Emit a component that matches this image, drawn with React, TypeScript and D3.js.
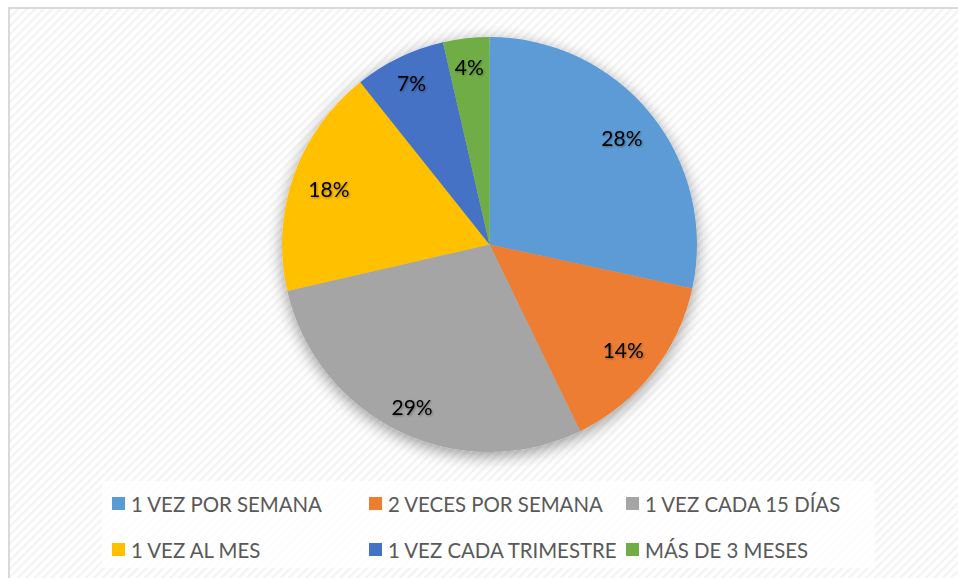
import React from "react";
import * as d3 from "d3";

const categories = [
  "1 VEZ POR SEMANA",
  "2 VECES POR SEMANA",
  "1 VEZ CADA 15 DÍAS",
  "1 VEZ AL MES",
  "1 VEZ CADA TRIMESTRE",
  "MÁS DE 3 MESES",
];
const values = [28.4, 14.4, 28.6, 17.9, 7.1, 3.6];
const colors = ["#5B9BD5", "#ED7D31", "#A5A5A5", "#FFC000", "#4472C4", "#70AD47"];

const W = 958;
const H = 578;

export default function App() {
  const cx = 489.5;
  const cy = 244.5;
  const r = 207.5;
  const total = d3.sum(values);
  const pie = d3.pie<number>().sort(null).value((d) => d).startAngle(0).endAngle(2 * Math.PI);
  const arcs = pie(values);
  const arc = d3.arc<d3.PieArcDatum<number>>().innerRadius(0).outerRadius(r);
  const labelArc = (a: d3.PieArcDatum<number>) => {
    const frac = (a.endAngle - a.startAngle) / (2 * Math.PI);
    const mid = (a.startAngle + a.endAngle) / 2;
    const lower = mid > Math.PI * 0.95 && mid < Math.PI * 1.3;
    const lr = frac < 0.1 || lower ? r * 0.865 : r * 0.82;
    return d3.arc<d3.PieArcDatum<number>>().innerRadius(lr).outerRadius(lr).centroid(a);
  };

  const legendCols = [112, 369, 626];
  const legendRows = [504, 550];

  return (
    <svg
      width={W}
      height={H}
      style={{ position: "absolute", left: 0, top: 0, display: "block" }}
      fontFamily="Lato, 'Open Sans', sans-serif"
    >
      <defs>
        <pattern id="stripes" width="6" height="6" patternUnits="userSpaceOnUse" patternTransform="rotate(45)">
          <rect width="6" height="6" fill="#ffffff" />
          <rect x="0" y="0" width="2.4" height="6" fill="#f3f3f3" />
        </pattern>
        <filter id="pieShadow" x="-20%" y="-20%" width="140%" height="140%">
          <feGaussianBlur in="SourceAlpha" stdDeviation="8" />
          <feOffset dx="0" dy="4" result="b" />
          <feComponentTransfer>
            <feFuncA type="linear" slope="0.4" />
          </feComponentTransfer>
          <feMerge>
            <feMergeNode />
            <feMergeNode in="SourceGraphic" />
          </feMerge>
        </filter>
        <filter id="textShadow" x="-20%" y="-20%" width="140%" height="140%">
          <feGaussianBlur in="SourceAlpha" stdDeviation="0.8" />
          <feOffset dx="1" dy="1" />
          <feComponentTransfer>
            <feFuncA type="linear" slope="0.35" />
          </feComponentTransfer>
          <feMerge>
            <feMergeNode />
            <feMergeNode in="SourceGraphic" />
          </feMerge>
        </filter>
      </defs>
      <rect x={0} y={0} width={W} height={H} fill="#ffffff" />
      <rect x={9} y={8} width={W + 20} height={H + 20} fill="url(#stripes)" stroke="#d9d9d9" strokeWidth={2} />

      <g transform={`translate(${cx},${cy})`}>
        <g filter="url(#pieShadow)">
          {arcs.map((a, i) => (
            <path key={i} d={arc(a) || ""} fill={colors[i]} />
          ))}
        </g>
        {arcs.map((a, i) => {
          const [x, y] = labelArc(a);
          return (
            <text
              key={i}
              x={x}
              y={y}
              textAnchor="middle"
              dominantBaseline="central"
              fontSize={21}
              fill="#000000"
              filter="url(#textShadow)"
            >
              {Math.round((values[i] / total) * 100)}%
            </text>
          );
        })}
      </g>

      <rect x={102} y={481} width={773} height={87} fill="#ffffff" fillOpacity={0.8} />
      {categories.map((c, i) => {
        const col = i % 3;
        const row = Math.floor(i / 3);
        const x = legendCols[col];
        const y = legendRows[row];
        return (
          <g key={c}>
            <rect x={x} y={y - 7} width={13} height={13} fill={colors[i]} />
            <text x={x + 19} y={y} dominantBaseline="central" fontSize={20.4} fill="#595959">
              {c}
            </text>
          </g>
        );
      })}
    </svg>
  );
}
